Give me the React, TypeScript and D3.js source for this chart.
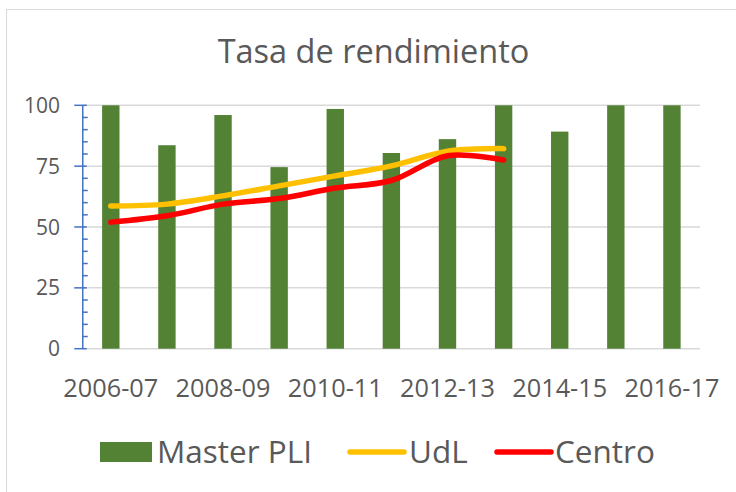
import React from "react";
import * as d3 from "d3";

const categories = ["2006-07","2007-08","2008-09","2009-10","2010-11","2011-12","2012-13","2013-14","2014-15","2015-16","2016-17"];
const masterPLI = [100, 83.6, 96, 74.6, 98.5, 80.4, 86.1, 100, 89.2, 100, 100];
const udl = [58.6, 59.4, 62.8, 66.9, 71.0, 75.1, 81.1, 82.2];
const centro = [52.0, 54.6, 59.4, 61.7, 66.0, 69.1, 79.3, 77.5];
const yTicks = [0, 25, 50, 75, 100];
const xLabels = ["2006-07","2008-09","2010-11","2012-13","2014-15","2016-17"];

const W = 736, H = 492;
const FONT = "'Open Sans', 'Liberation Sans', sans-serif";
const TXT = "#595959";

export default function App() {
  const x = d3.scaleBand<string>().domain(categories).range([82.75, 700]).padding(0);
  const y = d3.scaleLinear().domain([0, 100]).range([348.7, 105.3]);
  const bw = x.bandwidth() * 0.31;
  const cx = (i: number) => (x(categories[i]) as number) + x.bandwidth() / 2;
  const line = d3.line<number>().x((_, i) => cx(i)).y(d => y(d)).curve(d3.curveCatmullRom.alpha(0.5));
  const minor = d3.range(0, 101, 5).filter(v => v % 25 !== 0);
  const axisX = 82.75;

  return (
    <svg width={W} height={H} style={{ position: "absolute", left: 0, top: 0, background: "#fff" }} fontFamily={FONT}>
      <rect x={6.5} y={9.5} width={W + 10} height={H + 10} fill="#fff" stroke="#d9d9d9" strokeWidth={1} />
      <text x={373.5} y={63} textAnchor="middle" fontSize={32.5} fill={TXT}>Tasa de rendimiento</text>
      {yTicks.map(t => (
        <g key={t}>
          <line x1={axisX} x2={700} y1={y(t)} y2={y(t)} stroke="#d9d9d9" strokeWidth={1.5} />
          <text x={60} y={y(t)} dy="0.36em" textAnchor="end" fontSize={21} fill={TXT}>{t}</text>
        </g>
      ))}
      {masterPLI.map((v, i) => (
        <rect key={i} x={cx(i) - bw / 2} y={y(v)} width={bw} height={y(0) - y(v)} fill="#548235" />
      ))}
      <path d={line(udl) || ""} fill="none" stroke="#FFC000" strokeWidth={5.5} strokeLinecap="round" strokeLinejoin="round" />
      <path d={line(centro) || ""} fill="none" stroke="#FF0000" strokeWidth={5.5} strokeLinecap="round" strokeLinejoin="round" />
      <line x1={axisX} x2={axisX} y1={y(100)} y2={y(0)} stroke="#4472C4" strokeWidth={1.5} />
      {yTicks.map(t => (
        <line key={"mt" + t} x1={axisX - 8.5} x2={axisX + 4} y1={y(t)} y2={y(t)} stroke="#4472C4" strokeWidth={1.5} />
      ))}
      {minor.map(t => (
        <line key={"mn" + t} x1={axisX} x2={axisX + 5} y1={y(t)} y2={y(t)} stroke="#4472C4" strokeWidth={1.5} />
      ))}
      {xLabels.map(l => (
        <text key={l} x={(x(l) as number) + x.bandwidth() / 2} y={396.5} textAnchor="middle" fontSize={25.3} fill={TXT}>{l}</text>
      ))}
      <g>
        <rect x={100} y={442} width={52} height={20} fill="#548235" />
        <text x={157} y={462.5} fontSize={31.5} fill={TXT}>Master PLI</text>
        <line x1={350} x2={404} y1={452} y2={452} stroke="#FFC000" strokeWidth={5.5} strokeLinecap="round" />
        <text x={409} y={462.5} fontSize={31.5} fill={TXT}>UdL</text>
        <line x1={497} x2={551} y1={452} y2={452} stroke="#FF0000" strokeWidth={5.5} strokeLinecap="round" />
        <text x={555} y={462.5} fontSize={31.5} fill={TXT}>Centro</text>
      </g>
    </svg>
  );
}
